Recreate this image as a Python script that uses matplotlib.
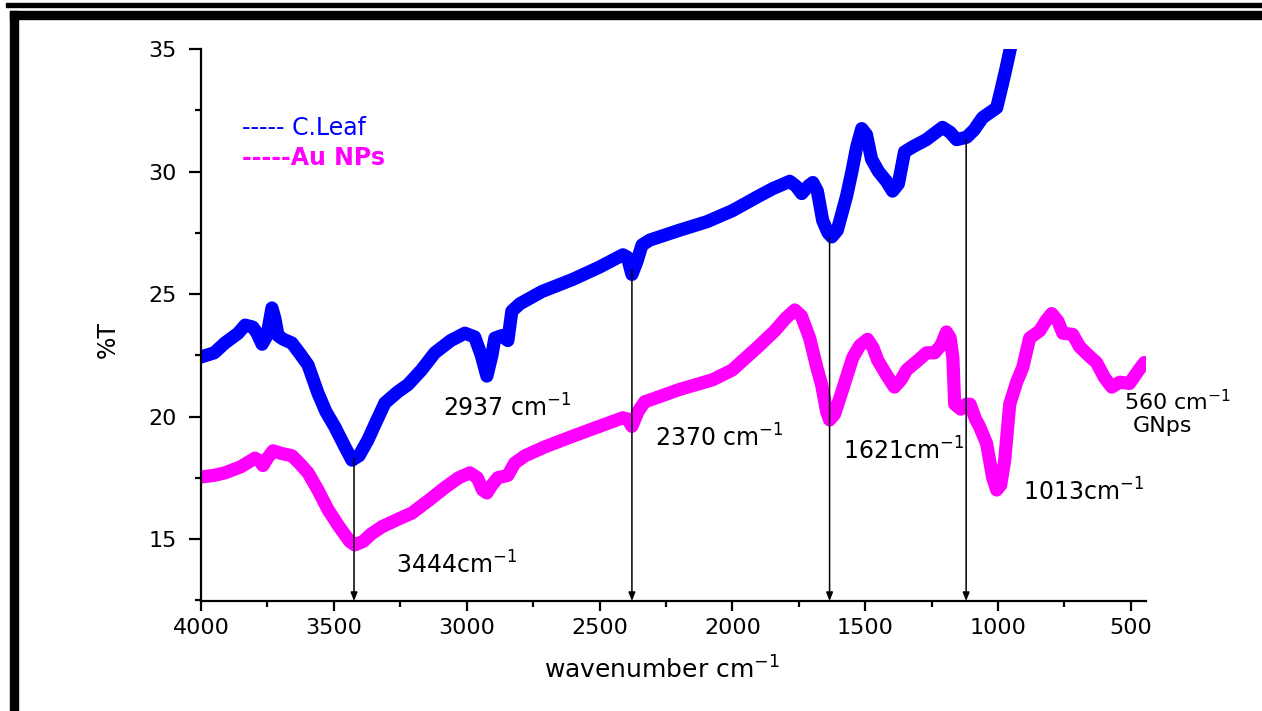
import numpy as np
import matplotlib
matplotlib.use("Agg")
import matplotlib.pyplot as plt
from matplotlib.patches import Rectangle
from matplotlib.ticker import MultipleLocator

# FTIR spectra (wavenumber cm-1, %T)
leaf_x = [4000, 3950, 3910, 3860, 3834, 3805, 3789, 3770, 3752, 3740, 3733, 3722, 3710,
          3690, 3658, 3630, 3597, 3560, 3530, 3496, 3460, 3432, 3405, 3372, 3340, 3308,
          3260, 3221, 3170, 3120, 3060, 3007, 2970, 2945, 2924, 2905, 2894, 2868, 2845,
          2830, 2800, 2717, 2600, 2500, 2412, 2395, 2378, 2360, 2340, 2311, 2200, 2096,
          2000, 1900, 1848, 1784, 1760, 1739, 1715, 1697, 1680, 1660, 1640, 1626, 1605,
          1585, 1570, 1550, 1532, 1513, 1495, 1476, 1450, 1420, 1397, 1375, 1352, 1322,
          1270, 1209, 1180, 1156, 1118, 1090, 1058, 1005, 985, 970, 950]
leaf_y = [22.43, 22.6, 23.0, 23.4, 23.73, 23.65, 23.4, 22.95, 23.3, 24.0, 24.43, 24.0, 23.3,
          23.15, 23.0, 22.6, 22.1, 20.96, 20.2, 19.57, 18.8, 18.22, 18.4, 19.04, 19.8, 20.55,
          21.0, 21.3, 21.9, 22.6, 23.1, 23.4, 23.25, 22.5, 21.65, 22.5, 23.2, 23.3, 23.1,
          24.3, 24.6, 25.1, 25.6, 26.1, 26.6, 26.5, 25.8, 26.3, 27.0, 27.2, 27.6, 27.95,
          28.4, 29.0, 29.3, 29.6, 29.4, 29.1, 29.4, 29.55, 29.2, 28.0, 27.5, 27.33, 27.6,
          28.4, 29.0, 30.0, 31.0, 31.75, 31.5, 30.5, 30.0, 29.6, 29.2, 29.5, 30.8, 31.0,
          31.3, 31.8, 31.6, 31.3, 31.4, 31.7, 32.2, 32.6, 33.5, 34.2, 35.2]

au_x = [4000, 3950, 3910, 3850, 3797, 3780, 3767, 3750, 3729, 3700, 3658, 3630, 3597,
        3560, 3522, 3480, 3440, 3421, 3390, 3360, 3319, 3260, 3206, 3140, 3082, 3030,
        2988, 2960, 2940, 2924, 2905, 2883, 2845, 2819, 2780, 2706, 2600, 2500, 2412,
        2395, 2378, 2355, 2330, 2311, 2200, 2074, 2000, 1908, 1840, 1800, 1765, 1740,
        1709, 1682, 1664, 1645, 1634, 1615, 1600, 1585, 1547, 1520, 1491, 1470, 1453,
        1420, 1390, 1365, 1344, 1300, 1269, 1239, 1215, 1194, 1180, 1170, 1163, 1140,
        1120, 1105, 1085, 1070, 1043, 1020, 1005, 990, 975, 956, 930, 907, 881, 843,
        820, 798, 775, 756, 719, 693, 660, 629, 600, 572, 542, 505, 470, 449]
au_y = [17.53, 17.6, 17.7, 17.95, 18.3, 18.2, 18.0, 18.3, 18.6, 18.5, 18.4, 18.1, 17.7,
        17.0, 16.2, 15.5, 14.9, 14.76, 14.9, 15.2, 15.5, 15.8, 16.06, 16.6, 17.1, 17.5,
        17.7, 17.5, 17.0, 16.88, 17.2, 17.5, 17.6, 18.1, 18.4, 18.76, 19.2, 19.6, 19.95,
        19.9, 19.6, 20.2, 20.6, 20.67, 21.1, 21.5, 21.9, 22.8, 23.5, 24.0, 24.35, 24.1,
        23.2, 22.0, 21.3, 20.2, 19.86, 20.1, 20.6, 21.1, 22.4, 22.9, 23.15, 22.8, 22.3,
        21.7, 21.2, 21.5, 21.9, 22.3, 22.6, 22.6, 22.9, 23.45, 23.2, 22.4, 20.5, 20.3,
        20.5, 20.5, 19.9, 19.6, 18.9, 17.5, 17.0, 17.2, 18.2, 20.5, 21.4, 22.0, 23.2, 23.5,
        23.9, 24.2, 23.9, 23.4, 23.35, 22.85, 22.5, 22.2, 21.6, 21.2, 21.4, 21.35, 21.9, 22.2]

# vertical marker arrows: position and where they start on the blue curve
arrow_x = [3424, 2378, 1634, 1120]
arrow_top = [18.3, 26.0, 27.3, 31.3]

# peak labels
peak_labels = ["2937 cm$^{-1}$", "2370 cm$^{-1}$", "1621cm$^{-1}$", "1013cm$^{-1}$",
               "3444cm$^{-1}$", "560 cm$^{-1}$", "GNps"]
peak_label_x = [3090, 2292, 1585, 907, 3266, 524, 494]
peak_label_y = [20.35, 19.12, 18.6, 16.9, 13.94, 20.6, 19.6]

W, H = 1262, 711
fig = plt.figure(figsize=(W / 100, H / 100), dpi=100)

# black frame pieces at top and left of the picture
fig.patches.append(Rectangle((6 / W, 1 - 6.7 / H), 1, 3.4 / H, transform=fig.transFigure,
                             color='black', zorder=0))
fig.patches.append(Rectangle((10 / W, 1 - 19 / H), 1, 8 / H, transform=fig.transFigure,
                             color='black', zorder=0))
fig.patches.append(Rectangle((10 / W, 0), 8 / W, 1 - 11 / H, transform=fig.transFigure,
                             color='black', zorder=0))

ax = fig.add_axes([201 / W, 1 - 601 / H, 945 / W, 552 / H])

ax.plot(leaf_x, leaf_y, color='#0000FF', lw=9.5, solid_capstyle='round', solid_joinstyle='round')
ax.plot(au_x, au_y, color='#FF00FF', lw=9.5, solid_capstyle='round', solid_joinstyle='round')

ax.set_xlim(4000, 443)
ax.set_ylim(12.47, 35)

for xa, yt in zip(arrow_x, arrow_top):
    ax.annotate('', xy=(xa, 12.47), xytext=(xa, yt),
                arrowprops=dict(arrowstyle='-|>,head_length=0.5,head_width=0.2',
                                color='black', lw=1.1, shrinkA=0, shrinkB=0))

for i, (t, xl, yl) in enumerate(zip(peak_labels, peak_label_x, peak_label_y)):
    fs = 16 if i >= 5 else 17
    ax.text(xl, yl, t, fontsize=fs, color='black', ha='left', va='center')

ax.text(0.0434, 0.857, "----- C.Leaf", transform=ax.transAxes, fontsize=17,
        color='#0000FF', ha='left', va='center')
ax.text(0.0434, 0.8025, "-----Au NPs", transform=ax.transAxes, fontsize=17,
        color='#FF00FF', ha='left', va='center', fontweight='bold')

for s in ['top', 'right']:
    ax.spines[s].set_visible(False)
for s in ['left', 'bottom']:
    ax.spines[s].set_linewidth(1.6)

ax.xaxis.set_minor_locator(MultipleLocator(250))
ax.yaxis.set_minor_locator(MultipleLocator(2.5))
ax.set_xticks([4000, 3500, 3000, 2500, 2000, 1500, 1000, 500])
ax.set_yticks([15, 20, 25, 30, 35])
ax.tick_params(axis='x', which='major', length=7, width=1.6, labelsize=16, pad=5)
ax.tick_params(axis='y', which='major', length=8.5, width=1.6, labelsize=16, pad=9)
ax.tick_params(which='minor', length=4, width=1.6)

fig.text(108 / W, 1 - 340 / H, "%T", rotation=90, fontsize=17, ha='center', va='center')
fig.text(662 / W, 1 - 670 / H, "wavenumber cm$^{-1}$", fontsize=18, ha='center', va='center')

fig.savefig("out.png", dpi=100)
